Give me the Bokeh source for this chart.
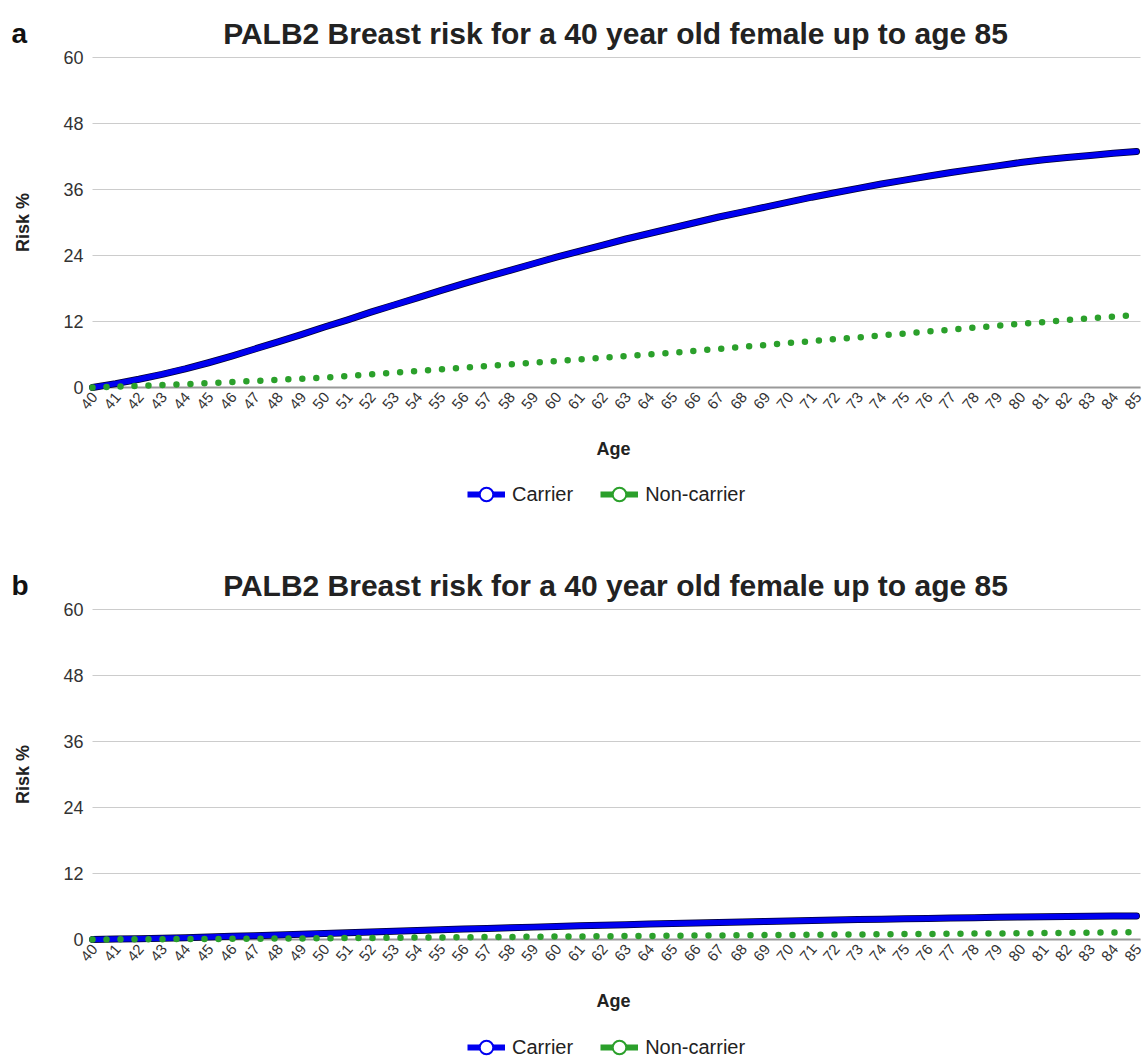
import math
from bokeh.plotting import figure
from bokeh.models import Range1d, Legend, LegendItem, ColumnDataSource
from bokeh.layouts import column
from bokeh.embed import file_html
from bokeh.resources import INLINE
from bokeh.core.properties import value

ages = list(range(40, 86))
tick_ages = list(range(40, 86))
tick_labels = [str(a) for a in tick_ages]
y_ticks = [0, 12, 24, 36, 48, 60]
y_tick_labels = ["0", "12", "24", "36", "48", "60"]
series_names = ["Carrier", "Non-carrier"]
title_text = "PALB2 Breast risk for a 40 year old female up to age 85"
x_title = "Age"
y_title = "Risk %"
panel_letters = ["a", "b"]

a_carrier = [0.0, 0.7, 1.5, 2.4, 3.4, 4.5, 5.7, 7.0, 8.3, 9.6,
             11.0, 12.3, 13.7, 15.0, 16.3, 17.6, 18.9, 20.1, 21.3, 22.5,
             23.7, 24.8, 25.9, 27.0, 28.0, 29.0, 30.0, 31.0, 31.9, 32.8,
             33.7, 34.6, 35.4, 36.2, 37.0, 37.7, 38.4, 39.1, 39.7, 40.3,
             40.9, 41.4, 41.8, 42.2, 42.6, 42.9]
a_noncarrier = [0.0, 0.15, 0.3, 0.45, 0.6, 0.8, 1.0, 1.2, 1.4, 1.6,
                1.8, 2.1, 2.4, 2.7, 3.0, 3.3, 3.6, 3.9, 4.2, 4.5,
                4.8, 5.1, 5.4, 5.7, 6.0, 6.3, 6.7, 7.0, 7.4, 7.7,
                8.1, 8.4, 8.8, 9.1, 9.5, 9.8, 10.2, 10.5, 10.9, 11.2,
                11.6, 11.9, 12.3, 12.6, 12.9, 13.2]
b_carrier = [0.0, 0.07, 0.15, 0.24, 0.34, 0.45, 0.57, 0.7, 0.83, 0.96,
             1.1, 1.23, 1.37, 1.5, 1.63, 1.76, 1.89, 2.01, 2.13, 2.25,
             2.37, 2.48, 2.59, 2.7, 2.8, 2.9, 3.0, 3.1, 3.19, 3.28,
             3.37, 3.46, 3.54, 3.62, 3.7, 3.77, 3.84, 3.91, 3.97, 4.03,
             4.09, 4.14, 4.18, 4.22, 4.26, 4.29]
b_noncarrier = [0.0, 0.02, 0.04, 0.06, 0.08, 0.1, 0.12, 0.15, 0.18, 0.2,
                0.23, 0.26, 0.29, 0.32, 0.35, 0.38, 0.41, 0.44, 0.47, 0.5,
                0.53, 0.56, 0.59, 0.62, 0.65, 0.68, 0.71, 0.74, 0.77, 0.8,
                0.83, 0.86, 0.89, 0.92, 0.95, 0.98, 1.01, 1.04, 1.07, 1.1,
                1.13, 1.16, 1.2, 1.24, 1.28, 1.32]

FONT = value("Liberation Sans")
BLUE = "#0000f0"
GREEN = "#2ba02b"
TEXT = "#222222"
TICK = "#333333"

# pixel layout of one panel (frame = whole figure, no Bokeh axes)
W = 1148
LEFT_PX = 92          # x of age 40
RIGHT_PX = 1136       # x of age 85
TOP_PX = 57           # y of risk 60 from panel top
ZERO_PX = 387         # y of risk 0 from panel top
PX_X = (RIGHT_PX - LEFT_PX) / (tick_ages[-1] - tick_ages[0])
PX_Y = (ZERO_PX - TOP_PX) / (y_ticks[-1] - y_ticks[0])
X_END = tick_ages[-1] + 4 / PX_X


def px_x(px):
    return tick_ages[0] + (px - LEFT_PX) / PX_X


def px_y(py):
    return y_ticks[0] + (ZERO_PX - py) / PX_Y


def make_panel(letter, carrier, noncarrier, height, legend_bottom):
    p = figure(width=W, height=height, output_backend="svg", toolbar_location=None,
               x_range=Range1d(px_x(0), px_x(W)), y_range=Range1d(px_y(height), px_y(0)),
               x_axis_location=None, y_axis_location=None, min_border=0)
    p.min_border_left = 0
    p.min_border_right = 0
    p.min_border_top = 0
    p.min_border_bottom = 0
    p.outline_line_color = None
    p.grid.visible = False
    p.background_fill_color = "white"
    p.border_fill_color = "white"

    # horizontal gridlines and x axis line
    p.segment(x0=[tick_ages[0]] * len(y_ticks), x1=[X_END] * len(y_ticks),
              y0=y_ticks, y1=y_ticks, line_color="#cccccc", line_width=1)
    p.segment(x0=[tick_ages[0]], x1=[X_END], y0=[y_ticks[0]], y1=[y_ticks[0]],
              line_color="#999999", line_width=2)

    # tick labels
    p.text(x=[tick_ages[0]] * len(y_ticks), y=y_ticks, text=y_tick_labels, x_offset=-9,
           text_align="right", text_baseline="middle", text_font=FONT,
           text_font_size="18px", text_color=TICK)
    p.text(x=tick_ages, y=[px_y(ZERO_PX + 7)] * len(tick_ages), text=tick_labels,
           x_offset=2, angle=0.87, text_align="right", text_baseline="middle",
           text_font=FONT, text_font_size="15px", text_color=TICK)

    # axis titles
    p.text(x=[px_x(22)], y=[(y_ticks[0] + y_ticks[-1]) / 2], text=[y_title], angle=math.pi / 2,
           text_align="center", text_baseline="middle", text_font=FONT,
           text_font_size="18px", text_font_style="bold", text_color=TEXT)
    p.text(x=[px_x(613)], y=[px_y(448)], text=[x_title], text_align="center",
           text_baseline="middle", text_font=FONT, text_font_size="18px",
           text_font_style="bold", text_color=TEXT)

    # chart title and panel letter
    p.text(x=[px_x(615)], y=[px_y(33)], text=[title_text], text_align="center",
           text_baseline="alphabetic", text_font=FONT, text_font_size="30px",
           text_font_style="bold", text_color=TEXT)
    p.text(x=[px_x(11)], y=[px_y(33)], text=[letter], text_align="left",
           text_baseline="alphabetic", text_font=FONT, text_font_size="28px",
           text_font_style="bold", text_color="#111111")

    # series
    src = ColumnDataSource(dict(age=ages, carrier=carrier, noncarrier=noncarrier,
                                hidden=[float("nan")] * len(ages)))
    p.line("age", "carrier", source=src, line_color="#000030", line_width=7,
           line_join="round", line_cap="round")
    p.line("age", "carrier", source=src, line_color=BLUE, line_width=5.5,
           line_join="round", line_cap="round")
    p.line("age", "noncarrier", source=src, line_color=GREEN, line_width=6.5,
           line_dash="0 14", line_cap="round")

    # legend (glyphs only, no data drawn)
    lc = p.line("age", "hidden", source=src, line_color=BLUE, line_width=6)
    mc = p.scatter("age", "hidden", source=src, marker="circle", fill_color="white",
                   line_color=BLUE, line_width=2)
    lg = p.line("age", "hidden", source=src, line_color=GREEN, line_width=6)
    mg = p.scatter("age", "hidden", source=src, marker="circle", fill_color="white",
                   line_color=GREEN, line_width=2)
    legend = Legend(items=[LegendItem(label=series_names[0], renderers=[lc, mc]),
                           LegendItem(label=series_names[1], renderers=[lg, mg])],
                    orientation="horizontal", location=(467, legend_bottom),
                    label_text_font="Liberation Sans", label_text_font_size="20px",
                    label_text_color=TEXT, glyph_width=38, glyph_height=34,
                    spacing=27, label_standoff=7, padding=0, margin=0,
                    border_line_color=None, background_fill_alpha=0)
    p.add_layout(legend, "center")
    return p


pa = make_panel(panel_letters[0], a_carrier, a_noncarrier, 552, 41)
pb = make_panel(panel_letters[1], b_carrier, b_noncarrier, 512, 0)

layout = column(pa, pb, spacing=0)
open("out.html", "w").write(file_html(layout, INLINE))
